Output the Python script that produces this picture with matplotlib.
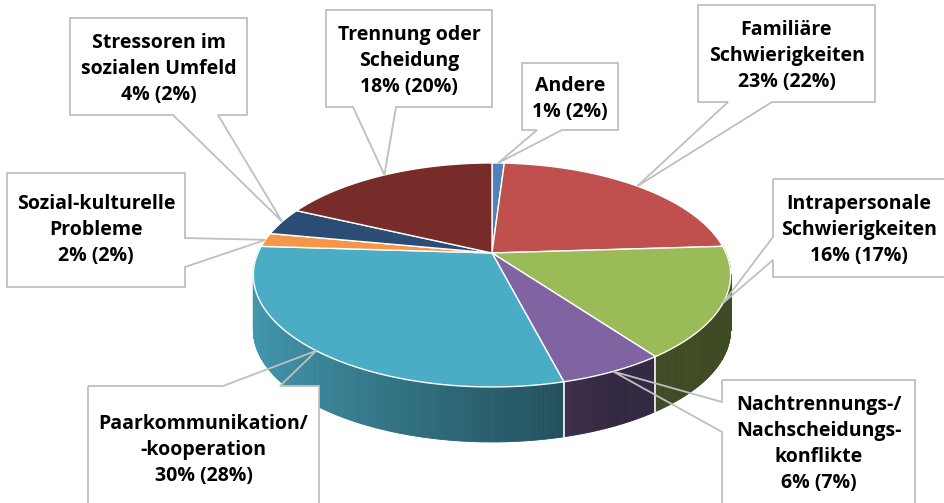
"""
3D-Tortendiagramm mit Callout-Beschriftungen (Excel-Stil) nachgebaut mit matplotlib
"""

import numpy as np
import matplotlib.pyplot as plt
from matplotlib.patches import Polygon, Rectangle
from matplotlib.collections import PolyCollection

plt.rcParams['font.family'] = ['Open Sans', 'DejaVu Sans']

# Daten (im Uhrzeigersinn ab 12 Uhr)
categories = ['Andere', 'Familiäre\nSchwierigkeiten', 'Intrapersonale\nSchwierigkeiten',
              'Nachtrennungs-/\nNachscheidungs-\nkonflikte', 'Paarkommunikation/\n-kooperation',
              'Sozial-kulturelle\nProbleme', 'Stressoren im\nsozialen Umfeld',
              'Trennung oder\nScheidung']
values = [1, 23, 16, 6, 30, 2, 4, 18]
prev_values = [2, 22, 17, 7, 28, 2, 2, 20]
colors = ['#4F81BD', '#C0504D', '#9BBB59', '#8064A2', '#4BACC6', '#F79646', '#2B4C74', '#772C2A']

# Geometrie der Torte (Pixel)
CX, CY = 492, 253
AX_R, BZ_R = 234, 107.7
PERSP = -0.196
DEPTH = 55

# Callout-Boxen: (links, oben, rechts, unten), Seite des Zeigers, Basis des Zeigers, Text-y
boxes = [
    ((522, 63, 618, 130), 'bottom', (537, 562), 99),
    ((698, 5, 875, 102), 'bottom', (728, 772), 56),
    ((773, 179, 950, 277), 'left', (237, 260), 230),
    ((722, 380, 915, 530), 'left', (402, 432), 444),
    ((88, 386, 319, 530), 'top', (223, 280), 450),
    ((7, 173, 185, 287), 'right', (238, 267), 230),
    ((70, 18, 247, 115), 'bottom', (173, 218), 69),
    ((326, 10, 492, 107), 'bottom', (353, 396), 61),
]


def proj(theta_deg, r=1.0, dy=0.0):
    t = np.radians(theta_deg)
    x = r * np.cos(t)
    z = r * np.sin(t)
    w = 1 + PERSP * z
    return CX + AX_R * x / w, CY + BZ_R * z / w + dy


def shade(color, theta):
    f = np.clip(0.55 - 0.35 * np.cos(np.radians(theta)), 0.4, 0.92)
    rgb = np.array(plt.matplotlib.colors.to_rgb(color))
    return tuple(rgb * f)


fig = plt.figure(figsize=(9.45, 5.03), dpi=100)
ax = fig.add_axes([0, 0, 1, 1])
ax.set_xlim(0, 945)
ax.set_ylim(503, 0)
ax.axis('off')

cum = np.concatenate([[0], np.cumsum(values)]) / sum(values) * 360.0
starts = -90 + cum[:-1]
ends = -90 + cum[1:]

# Seitenwand (nur vorderer Teil sichtbar)
quads, qcols, zkeys = [], [], []
for s, e, c in zip(starts, ends, colors):
    lo, hi = max(s, -5), min(e, 185)
    if hi <= lo:
        continue
    ts = np.linspace(lo, hi, max(3, int((hi - lo) * 2)))
    for t0, t1 in zip(ts[:-1], ts[1:]):
        x0, y0 = proj(t0)
        x1, y1 = proj(t1)
        quads.append([(x0, y0), (x1, y1), (x1, y1 + DEPTH), (x0, y0 + DEPTH)])
        tm = 0.5 * (t0 + t1)
        qcols.append(shade(c, tm))
        zkeys.append(np.sin(np.radians(tm)))
order = np.argsort(zkeys)
pc = PolyCollection([quads[i] for i in order], facecolors=[qcols[i] for i in order],
                    edgecolors=[qcols[i] for i in order], linewidths=0.6, zorder=1)
ax.add_collection(pc)

# weiße Trennlinien an der Seitenwand
for b in ends:
    if 0 < b < 180:
        x0, y0 = proj(b)
        ax.plot([x0, x0], [y0, y0 + DEPTH], color='white', lw=1.2, zorder=2)

# Deckfläche
for s, e, c in zip(starts, ends, colors):
    ts = np.linspace(s, e, max(4, int((e - s) * 2)))
    pts = [(CX, CY)] + [proj(t) for t in ts]
    ax.add_patch(Polygon(pts, closed=True, facecolor=c, edgecolor='white',
                         lw=1.0, joinstyle='round', zorder=3))

# Callouts
for name, v, pv, s, e, (rect, side, base, ty) in zip(categories, values, prev_values,
                                                       starts, ends, boxes):
    l, t, r, b = rect
    tip = proj(0.5 * (s + e))
    if side == 'bottom':
        pts = [(l, t), (r, t), (r, b), (base[1], b), tip, (base[0], b), (l, b)]
    elif side == 'top':
        pts = [(l, t), (base[0], t), tip, (base[1], t), (r, t), (r, b), (l, b)]
    elif side == 'left':
        pts = [(l, t), (r, t), (r, b), (l, b), (l, base[1]), tip, (l, base[0])]
    else:
        pts = [(l, t), (r, t), (r, base[0]), tip, (r, base[1]), (r, b), (l, b)]
    ax.add_patch(Rectangle((l, t), r - l, b - t, facecolor='white', edgecolor='none', zorder=4))
    ax.add_patch(Polygon(pts, closed=True, facecolor='none', edgecolor='#BFBFBF',
                         lw=1.3, zorder=5))
    ax.text((l + min(r, 945)) / 2, ty, f'{name}\n{v}% ({pv}%)', ha='center', va='center',
            fontsize=14, fontweight='bold', linespacing=1.42, color='black', zorder=6)

fig.savefig('out.png', dpi=100)
